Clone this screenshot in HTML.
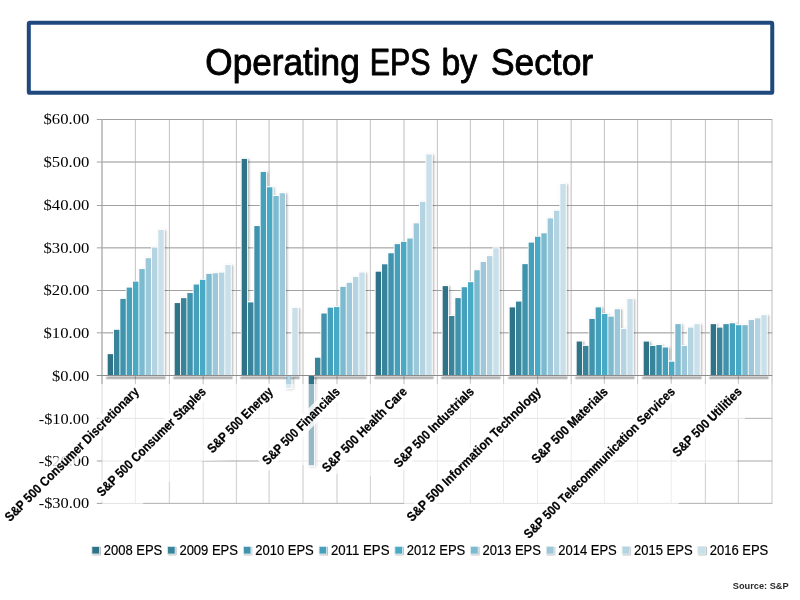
<!DOCTYPE html>
<html lang="en"><head><meta charset="utf-8"><title>Operating EPS by Sector</title>
<style>html,body{margin:0;padding:0;background:#fff;overflow:hidden}svg{display:block}text{font-family:"Liberation Sans",sans-serif}.yl{font-family:"Liberation Serif",serif;font-size:14.3px;fill:#000}.cl{font-weight:bold;font-size:13px;fill:#000;stroke:#000;stroke-width:0.25px}.lg{font-size:14px;fill:#000;stroke:#000;stroke-width:0.2px}</style></head><body>
<svg width="800" height="600" viewBox="0 0 800 600">
<defs><filter id="sh" x="-10%" y="-10%" width="130%" height="130%"><feDropShadow dx="1.2" dy="1.0" stdDeviation="1.0" flood-color="#000" flood-opacity="0.32"/></filter><filter id="ss" x="-30%" y="-30%" width="180%" height="180%"><feDropShadow dx="0.8" dy="0.8" stdDeviation="0.6" flood-color="#000" flood-opacity="0.35"/></filter><clipPath id="dk"><rect x="0" y="0" width="800" height="384"/></clipPath><clipPath id="dk2"><polygon points="142,504.4 160,487 169,482 203,461 260,459 303,465 337,474 370,476 403.5,463 404,504.4"/><polygon points="745,384 773.2,384 773.2,504.4 678,504.4 705,463 737,463 737,419 745,419"/></clipPath></defs>
<rect width="800" height="600" fill="#fff"/>
<rect x="28.8" y="22.85" width="743.45" height="70.0" rx="1.2" fill="#fff" stroke="#1f497d" stroke-width="4"/>
<text x="205.3" y="75" font-size="36" fill="#000" stroke="#000" stroke-width="0.9" stroke-linejoin="round" textLength="154.4" lengthAdjust="spacingAndGlyphs">Operating</text>
<text x="369.7" y="75" font-size="36" fill="#000" stroke="#000" stroke-width="0.9" stroke-linejoin="round" textLength="61.0" lengthAdjust="spacingAndGlyphs">EPS</text>
<text x="441.4" y="75" font-size="36" fill="#000" stroke="#000" stroke-width="0.9" stroke-linejoin="round" textLength="35.6" lengthAdjust="spacingAndGlyphs">by</text>
<text x="490.9" y="75" font-size="36" fill="#000" stroke="#000" stroke-width="0.9" stroke-linejoin="round" textLength="102.2" lengthAdjust="spacingAndGlyphs">Sector</text>
<g stroke-width="1"><line x1="102" y1="119.50" x2="102" y2="503.40" stroke="#ececec" stroke-width="2"/><line x1="135.40" y1="119.50" x2="135.40" y2="503.40" stroke="#ececec"/><line x1="169.40" y1="119.50" x2="169.40" y2="503.40" stroke="#ececec"/><line x1="203.20" y1="119.50" x2="203.20" y2="503.40" stroke="#ececec"/><line x1="236.40" y1="119.50" x2="236.40" y2="503.40" stroke="#ececec"/><line x1="269.10" y1="119.50" x2="269.10" y2="503.40" stroke="#ececec"/><line x1="303.00" y1="119.50" x2="303.00" y2="503.40" stroke="#ececec"/><line x1="337.00" y1="119.50" x2="337.00" y2="503.40" stroke="#ececec"/><line x1="370.40" y1="119.50" x2="370.40" y2="503.40" stroke="#ececec"/><line x1="404.00" y1="119.50" x2="404.00" y2="503.40" stroke="#ececec"/><line x1="437.40" y1="119.50" x2="437.40" y2="503.40" stroke="#ececec"/><line x1="470.40" y1="119.50" x2="470.40" y2="503.40" stroke="#ececec"/><line x1="503.60" y1="119.50" x2="503.60" y2="503.40" stroke="#ececec"/><line x1="537.60" y1="119.50" x2="537.60" y2="503.40" stroke="#ececec"/><line x1="571.20" y1="119.50" x2="571.20" y2="503.40" stroke="#ececec"/><line x1="604.40" y1="119.50" x2="604.40" y2="503.40" stroke="#ececec"/><line x1="637.60" y1="119.50" x2="637.60" y2="503.40" stroke="#ececec"/><line x1="671.20" y1="119.50" x2="671.20" y2="503.40" stroke="#ececec"/><line x1="705.40" y1="119.50" x2="705.40" y2="503.40" stroke="#ececec"/><line x1="738.40" y1="119.50" x2="738.40" y2="503.40" stroke="#ececec"/><line x1="772.00" y1="119.50" x2="772.00" y2="503.40" stroke="#ececec"/><line x1="102.20" y1="503.40" x2="772.20" y2="503.40" stroke="#e4e4e4"/><line x1="102.20" y1="461.00" x2="772.20" y2="461.00" stroke="#e4e4e4"/><line x1="102.20" y1="418.40" x2="772.20" y2="418.40" stroke="#e4e4e4"/><line x1="102.20" y1="375.50" x2="772.20" y2="375.50" stroke="#e4e4e4"/><line x1="102.20" y1="332.85" x2="772.20" y2="332.85" stroke="#e4e4e4"/><line x1="102.20" y1="290.50" x2="772.20" y2="290.50" stroke="#e4e4e4"/><line x1="102.20" y1="247.85" x2="772.20" y2="247.85" stroke="#e4e4e4"/><line x1="102.20" y1="205.50" x2="772.20" y2="205.50" stroke="#e4e4e4"/><line x1="102.20" y1="162.00" x2="772.20" y2="162.00" stroke="#e4e4e4"/><line x1="102.20" y1="119.50" x2="772.20" y2="119.50" stroke="#e4e4e4"/></g>
<g stroke-width="1" clip-path="url(#dk2)"><line x1="102" y1="119.50" x2="102" y2="503.40" stroke="#d2d2d2" stroke-width="2"/><line x1="135.40" y1="119.50" x2="135.40" y2="503.40" stroke="#d2d2d2"/><line x1="169.40" y1="119.50" x2="169.40" y2="503.40" stroke="#d2d2d2"/><line x1="203.20" y1="119.50" x2="203.20" y2="503.40" stroke="#d2d2d2"/><line x1="236.40" y1="119.50" x2="236.40" y2="503.40" stroke="#d2d2d2"/><line x1="269.10" y1="119.50" x2="269.10" y2="503.40" stroke="#d2d2d2"/><line x1="303.00" y1="119.50" x2="303.00" y2="503.40" stroke="#d2d2d2"/><line x1="337.00" y1="119.50" x2="337.00" y2="503.40" stroke="#d2d2d2"/><line x1="370.40" y1="119.50" x2="370.40" y2="503.40" stroke="#d2d2d2"/><line x1="404.00" y1="119.50" x2="404.00" y2="503.40" stroke="#d2d2d2"/><line x1="437.40" y1="119.50" x2="437.40" y2="503.40" stroke="#d2d2d2"/><line x1="470.40" y1="119.50" x2="470.40" y2="503.40" stroke="#d2d2d2"/><line x1="503.60" y1="119.50" x2="503.60" y2="503.40" stroke="#d2d2d2"/><line x1="537.60" y1="119.50" x2="537.60" y2="503.40" stroke="#d2d2d2"/><line x1="571.20" y1="119.50" x2="571.20" y2="503.40" stroke="#d2d2d2"/><line x1="604.40" y1="119.50" x2="604.40" y2="503.40" stroke="#d2d2d2"/><line x1="637.60" y1="119.50" x2="637.60" y2="503.40" stroke="#d2d2d2"/><line x1="671.20" y1="119.50" x2="671.20" y2="503.40" stroke="#d2d2d2"/><line x1="705.40" y1="119.50" x2="705.40" y2="503.40" stroke="#d2d2d2"/><line x1="738.40" y1="119.50" x2="738.40" y2="503.40" stroke="#d2d2d2"/><line x1="772.00" y1="119.50" x2="772.00" y2="503.40" stroke="#d2d2d2"/><line x1="102.20" y1="503.40" x2="772.20" y2="503.40" stroke="#b4b4b4"/><line x1="102.20" y1="461.00" x2="772.20" y2="461.00" stroke="#b4b4b4"/><line x1="102.20" y1="418.40" x2="772.20" y2="418.40" stroke="#b4b4b4"/><line x1="102.20" y1="375.50" x2="772.20" y2="375.50" stroke="#b4b4b4"/><line x1="102.20" y1="332.85" x2="772.20" y2="332.85" stroke="#b4b4b4"/><line x1="102.20" y1="290.50" x2="772.20" y2="290.50" stroke="#b4b4b4"/><line x1="102.20" y1="247.85" x2="772.20" y2="247.85" stroke="#b4b4b4"/><line x1="102.20" y1="205.50" x2="772.20" y2="205.50" stroke="#b4b4b4"/><line x1="102.20" y1="162.00" x2="772.20" y2="162.00" stroke="#b4b4b4"/><line x1="102.20" y1="119.50" x2="772.20" y2="119.50" stroke="#b4b4b4"/></g>
<g stroke-width="1" clip-path="url(#dk)"><line x1="102" y1="119.50" x2="102" y2="503.40" stroke="#c6c6c6" stroke-width="2"/><line x1="135.40" y1="119.50" x2="135.40" y2="503.40" stroke="#c6c6c6"/><line x1="169.40" y1="119.50" x2="169.40" y2="503.40" stroke="#c6c6c6"/><line x1="203.20" y1="119.50" x2="203.20" y2="503.40" stroke="#c6c6c6"/><line x1="236.40" y1="119.50" x2="236.40" y2="503.40" stroke="#c6c6c6"/><line x1="269.10" y1="119.50" x2="269.10" y2="503.40" stroke="#c6c6c6"/><line x1="303.00" y1="119.50" x2="303.00" y2="503.40" stroke="#c6c6c6"/><line x1="337.00" y1="119.50" x2="337.00" y2="503.40" stroke="#c6c6c6"/><line x1="370.40" y1="119.50" x2="370.40" y2="503.40" stroke="#c6c6c6"/><line x1="404.00" y1="119.50" x2="404.00" y2="503.40" stroke="#c6c6c6"/><line x1="437.40" y1="119.50" x2="437.40" y2="503.40" stroke="#c6c6c6"/><line x1="470.40" y1="119.50" x2="470.40" y2="503.40" stroke="#c6c6c6"/><line x1="503.60" y1="119.50" x2="503.60" y2="503.40" stroke="#c6c6c6"/><line x1="537.60" y1="119.50" x2="537.60" y2="503.40" stroke="#c6c6c6"/><line x1="571.20" y1="119.50" x2="571.20" y2="503.40" stroke="#c6c6c6"/><line x1="604.40" y1="119.50" x2="604.40" y2="503.40" stroke="#c6c6c6"/><line x1="637.60" y1="119.50" x2="637.60" y2="503.40" stroke="#c6c6c6"/><line x1="671.20" y1="119.50" x2="671.20" y2="503.40" stroke="#c6c6c6"/><line x1="705.40" y1="119.50" x2="705.40" y2="503.40" stroke="#c6c6c6"/><line x1="738.40" y1="119.50" x2="738.40" y2="503.40" stroke="#c6c6c6"/><line x1="772.00" y1="119.50" x2="772.00" y2="503.40" stroke="#c6c6c6"/><line x1="102.20" y1="503.40" x2="772.20" y2="503.40" stroke="#a0a0a0"/><line x1="102.20" y1="461.00" x2="772.20" y2="461.00" stroke="#a0a0a0"/><line x1="102.20" y1="418.40" x2="772.20" y2="418.40" stroke="#a0a0a0"/><line x1="102.20" y1="375.50" x2="772.20" y2="375.50" stroke="#a0a0a0"/><line x1="102.20" y1="332.85" x2="772.20" y2="332.85" stroke="#a0a0a0"/><line x1="102.20" y1="290.50" x2="772.20" y2="290.50" stroke="#a0a0a0"/><line x1="102.20" y1="247.85" x2="772.20" y2="247.85" stroke="#a0a0a0"/><line x1="102.20" y1="205.50" x2="772.20" y2="205.50" stroke="#a0a0a0"/><line x1="102.20" y1="162.00" x2="772.20" y2="162.00" stroke="#a0a0a0"/><line x1="102.20" y1="119.50" x2="772.20" y2="119.50" stroke="#a0a0a0"/></g>
<g stroke="#a2a2a2" stroke-width="1">
<line x1="96.8" y1="503.40" x2="102.20" y2="503.40"/>
<line x1="96.8" y1="461.00" x2="102.20" y2="461.00"/>
<line x1="96.8" y1="418.40" x2="102.20" y2="418.40"/>
<line x1="96.8" y1="375.50" x2="102.20" y2="375.50"/>
<line x1="96.8" y1="332.85" x2="102.20" y2="332.85"/>
<line x1="96.8" y1="290.50" x2="102.20" y2="290.50"/>
<line x1="96.8" y1="247.85" x2="102.20" y2="247.85"/>
<line x1="96.8" y1="205.50" x2="102.20" y2="205.50"/>
<line x1="96.8" y1="162.00" x2="102.20" y2="162.00"/>
<line x1="96.8" y1="119.50" x2="102.20" y2="119.50"/>
</g>
<g filter="url(#sh)">
<rect x="106.77" y="353.21" width="7.23" height="21.79" fill="#fff"/><rect x="113.09" y="328.90" width="7.23" height="46.10" fill="#fff"/><rect x="119.42" y="297.99" width="7.23" height="77.01" fill="#fff"/><rect x="125.76" y="286.69" width="7.23" height="88.31" fill="#fff"/><rect x="132.09" y="280.72" width="7.23" height="94.28" fill="#fff"/><rect x="138.42" y="268.14" width="7.23" height="106.86" fill="#fff"/><rect x="144.75" y="257.27" width="7.23" height="117.73" fill="#fff"/><rect x="151.08" y="246.61" width="7.23" height="128.39" fill="#fff"/><rect x="157.41" y="229.13" width="7.23" height="145.87" fill="#fff"/>
<rect x="107.67" y="354.11" width="5.43" height="20.89" fill="#2f7388"/><rect x="114.00" y="329.80" width="5.43" height="45.20" fill="#38849b"/><rect x="120.33" y="298.89" width="5.43" height="76.11" fill="#3f93ad"/><rect x="126.66" y="287.59" width="5.43" height="87.41" fill="#45a0bb"/><rect x="132.98" y="281.62" width="5.43" height="93.38" fill="#4aaac6"/><rect x="139.31" y="269.04" width="5.43" height="105.96" fill="#7bbacf"/><rect x="145.64" y="258.17" width="5.43" height="116.83" fill="#9dc8da"/><rect x="151.97" y="247.51" width="5.43" height="127.49" fill="#b5d4e1"/><rect x="158.31" y="230.03" width="5.43" height="144.97" fill="#c9dfe9"/>
</g>
<g filter="url(#sh)">
<rect x="173.76" y="302.17" width="7.23" height="72.83" fill="#fff"/><rect x="180.09" y="297.26" width="7.23" height="77.74" fill="#fff"/><rect x="186.42" y="292.15" width="7.23" height="82.85" fill="#fff"/><rect x="192.75" y="283.62" width="7.23" height="91.38" fill="#fff"/><rect x="199.08" y="278.93" width="7.23" height="96.07" fill="#fff"/><rect x="205.41" y="272.96" width="7.23" height="102.04" fill="#fff"/><rect x="211.75" y="272.32" width="7.23" height="102.68" fill="#fff"/><rect x="218.07" y="271.68" width="7.23" height="103.32" fill="#fff"/><rect x="224.40" y="264.01" width="7.23" height="110.99" fill="#fff"/>
<rect x="174.66" y="303.07" width="5.43" height="71.93" fill="#2f7388"/><rect x="180.99" y="298.16" width="5.43" height="76.84" fill="#38849b"/><rect x="187.32" y="293.05" width="5.43" height="81.95" fill="#3f93ad"/><rect x="193.65" y="284.52" width="5.43" height="90.48" fill="#45a0bb"/><rect x="199.98" y="279.83" width="5.43" height="95.17" fill="#4aaac6"/><rect x="206.31" y="273.86" width="5.43" height="101.14" fill="#7bbacf"/><rect x="212.64" y="273.22" width="5.43" height="101.78" fill="#9dc8da"/><rect x="218.97" y="272.58" width="5.43" height="102.42" fill="#b5d4e1"/><rect x="225.30" y="264.91" width="5.43" height="110.09" fill="#c9dfe9"/>
</g>
<g filter="url(#sh)">
<rect x="240.76" y="158.00" width="7.23" height="217.00" fill="#fff"/><rect x="247.09" y="301.49" width="7.23" height="73.51" fill="#fff"/><rect x="253.42" y="225.16" width="7.23" height="149.84" fill="#fff"/><rect x="259.75" y="171.01" width="7.23" height="203.99" fill="#fff"/><rect x="266.08" y="186.36" width="7.23" height="188.64" fill="#fff"/><rect x="272.41" y="195.10" width="7.23" height="179.90" fill="#fff"/><rect x="278.75" y="192.33" width="7.23" height="182.67" fill="#fff"/><rect x="285.07" y="376.00" width="7.23" height="12.99" fill="#fff"/><rect x="291.40" y="307.03" width="7.23" height="67.97" fill="#fff"/>
<rect x="241.66" y="158.90" width="5.43" height="216.10" fill="#2f7388"/><rect x="247.99" y="302.39" width="5.43" height="72.61" fill="#38849b"/><rect x="254.32" y="226.06" width="5.43" height="148.94" fill="#3f93ad"/><rect x="260.65" y="171.91" width="5.43" height="203.09" fill="#45a0bb"/><rect x="266.98" y="187.26" width="5.43" height="187.74" fill="#4aaac6"/><rect x="273.31" y="196.00" width="5.43" height="179.00" fill="#7bbacf"/><rect x="279.64" y="193.23" width="5.43" height="181.77" fill="#9dc8da"/><rect x="285.97" y="376.00" width="5.43" height="12.09" fill="#b5d4e1"/><rect x="292.30" y="307.93" width="5.43" height="67.07" fill="#c9dfe9"/>
</g>
<g filter="url(#sh)">
<rect x="307.76" y="376.00" width="7.23" height="90.17" fill="#fff"/><rect x="314.09" y="356.83" width="7.23" height="18.17" fill="#fff"/><rect x="320.43" y="312.61" width="7.23" height="62.39" fill="#fff"/><rect x="326.75" y="306.77" width="7.23" height="68.23" fill="#fff"/><rect x="333.08" y="306.18" width="7.23" height="68.82" fill="#fff"/><rect x="339.41" y="285.96" width="7.23" height="89.04" fill="#fff"/><rect x="345.75" y="281.87" width="7.23" height="93.13" fill="#fff"/><rect x="352.07" y="275.99" width="7.23" height="99.01" fill="#fff"/><rect x="358.40" y="271.64" width="7.23" height="103.36" fill="#fff"/>
<rect x="308.66" y="376.00" width="5.43" height="89.27" fill="#2f7388"/><rect x="314.99" y="357.73" width="5.43" height="17.27" fill="#38849b"/><rect x="321.32" y="313.51" width="5.43" height="61.49" fill="#3f93ad"/><rect x="327.65" y="307.67" width="5.43" height="67.33" fill="#45a0bb"/><rect x="333.98" y="307.08" width="5.43" height="67.92" fill="#4aaac6"/><rect x="340.31" y="286.86" width="5.43" height="88.14" fill="#7bbacf"/><rect x="346.64" y="282.77" width="5.43" height="92.23" fill="#9dc8da"/><rect x="352.97" y="276.89" width="5.43" height="98.11" fill="#b5d4e1"/><rect x="359.30" y="272.54" width="5.43" height="102.46" fill="#c9dfe9"/>
</g>
<g filter="url(#sh)">
<rect x="374.76" y="270.78" width="7.23" height="104.22" fill="#fff"/><rect x="381.09" y="263.41" width="7.23" height="111.59" fill="#fff"/><rect x="387.43" y="252.36" width="7.23" height="122.64" fill="#fff"/><rect x="393.75" y="243.24" width="7.23" height="131.76" fill="#fff"/><rect x="400.08" y="240.94" width="7.23" height="134.06" fill="#fff"/><rect x="406.41" y="237.61" width="7.23" height="137.39" fill="#fff"/><rect x="412.75" y="222.43" width="7.23" height="152.57" fill="#fff"/><rect x="419.07" y="200.94" width="7.23" height="174.06" fill="#fff"/><rect x="425.40" y="153.52" width="7.23" height="221.48" fill="#fff"/>
<rect x="375.66" y="271.68" width="5.43" height="103.32" fill="#2f7388"/><rect x="381.99" y="264.31" width="5.43" height="110.69" fill="#38849b"/><rect x="388.32" y="253.26" width="5.43" height="121.74" fill="#3f93ad"/><rect x="394.65" y="244.14" width="5.43" height="130.86" fill="#45a0bb"/><rect x="400.98" y="241.84" width="5.43" height="133.16" fill="#4aaac6"/><rect x="407.31" y="238.51" width="5.43" height="136.49" fill="#7bbacf"/><rect x="413.64" y="223.33" width="5.43" height="151.67" fill="#9dc8da"/><rect x="419.97" y="201.84" width="5.43" height="173.16" fill="#b5d4e1"/><rect x="426.30" y="154.42" width="5.43" height="220.58" fill="#c9dfe9"/>
</g>
<g filter="url(#sh)">
<rect x="441.76" y="285.20" width="7.23" height="89.80" fill="#fff"/><rect x="448.09" y="315.13" width="7.23" height="59.87" fill="#fff"/><rect x="454.43" y="297.22" width="7.23" height="77.78" fill="#fff"/><rect x="460.75" y="286.31" width="7.23" height="88.69" fill="#fff"/><rect x="467.08" y="281.27" width="7.23" height="93.73" fill="#fff"/><rect x="473.41" y="269.34" width="7.23" height="105.66" fill="#fff"/><rect x="479.75" y="261.06" width="7.23" height="113.94" fill="#fff"/><rect x="486.07" y="255.18" width="7.23" height="119.82" fill="#fff"/><rect x="492.40" y="247.33" width="7.23" height="127.67" fill="#fff"/>
<rect x="442.66" y="286.10" width="5.43" height="88.90" fill="#2f7388"/><rect x="448.99" y="316.03" width="5.43" height="58.97" fill="#38849b"/><rect x="455.32" y="298.12" width="5.43" height="76.88" fill="#3f93ad"/><rect x="461.65" y="287.21" width="5.43" height="87.79" fill="#45a0bb"/><rect x="467.98" y="282.17" width="5.43" height="92.83" fill="#4aaac6"/><rect x="474.31" y="270.24" width="5.43" height="104.76" fill="#7bbacf"/><rect x="480.64" y="261.96" width="5.43" height="113.04" fill="#9dc8da"/><rect x="486.97" y="256.08" width="5.43" height="118.92" fill="#b5d4e1"/><rect x="493.30" y="248.23" width="5.43" height="126.77" fill="#c9dfe9"/>
</g>
<g filter="url(#sh)">
<rect x="508.76" y="306.47" width="7.23" height="68.53" fill="#fff"/><rect x="515.09" y="300.68" width="7.23" height="74.32" fill="#fff"/><rect x="521.42" y="263.24" width="7.23" height="111.76" fill="#fff"/><rect x="527.75" y="241.70" width="7.23" height="133.30" fill="#fff"/><rect x="534.08" y="235.82" width="7.23" height="139.18" fill="#fff"/><rect x="540.41" y="232.41" width="7.23" height="142.59" fill="#fff"/><rect x="546.74" y="217.48" width="7.23" height="157.52" fill="#fff"/><rect x="553.07" y="209.81" width="7.23" height="165.19" fill="#fff"/><rect x="559.40" y="183.16" width="7.23" height="191.84" fill="#fff"/>
<rect x="509.66" y="307.37" width="5.43" height="67.63" fill="#2f7388"/><rect x="516.00" y="301.58" width="5.43" height="73.42" fill="#38849b"/><rect x="522.33" y="264.14" width="5.43" height="110.86" fill="#3f93ad"/><rect x="528.65" y="242.60" width="5.43" height="132.40" fill="#45a0bb"/><rect x="534.99" y="236.72" width="5.43" height="138.28" fill="#4aaac6"/><rect x="541.32" y="233.31" width="5.43" height="141.69" fill="#7bbacf"/><rect x="547.64" y="218.38" width="5.43" height="156.62" fill="#9dc8da"/><rect x="553.98" y="210.71" width="5.43" height="164.29" fill="#b5d4e1"/><rect x="560.31" y="184.06" width="5.43" height="190.94" fill="#c9dfe9"/>
</g>
<g filter="url(#sh)">
<rect x="575.76" y="340.59" width="7.23" height="34.41" fill="#fff"/><rect x="582.10" y="344.98" width="7.23" height="30.02" fill="#fff"/><rect x="588.42" y="318.03" width="7.23" height="56.97" fill="#fff"/><rect x="594.75" y="306.47" width="7.23" height="68.53" fill="#fff"/><rect x="601.09" y="313.00" width="7.23" height="62.00" fill="#fff"/><rect x="607.41" y="315.73" width="7.23" height="59.27" fill="#fff"/><rect x="613.75" y="308.31" width="7.23" height="66.69" fill="#fff"/><rect x="620.08" y="328.01" width="7.23" height="46.99" fill="#fff"/><rect x="626.40" y="298.07" width="7.23" height="76.93" fill="#fff"/>
<rect x="576.67" y="341.49" width="5.43" height="33.51" fill="#2f7388"/><rect x="583.00" y="345.88" width="5.43" height="29.12" fill="#38849b"/><rect x="589.33" y="318.93" width="5.43" height="56.07" fill="#3f93ad"/><rect x="595.66" y="307.37" width="5.43" height="67.63" fill="#45a0bb"/><rect x="601.99" y="313.90" width="5.43" height="61.10" fill="#4aaac6"/><rect x="608.32" y="316.63" width="5.43" height="58.37" fill="#7bbacf"/><rect x="614.65" y="309.21" width="5.43" height="65.79" fill="#9dc8da"/><rect x="620.98" y="328.91" width="5.43" height="46.09" fill="#b5d4e1"/><rect x="627.31" y="298.97" width="5.43" height="76.03" fill="#c9dfe9"/>
</g>
<g filter="url(#sh)">
<rect x="642.76" y="340.67" width="7.23" height="34.33" fill="#fff"/><rect x="649.10" y="345.02" width="7.23" height="29.98" fill="#fff"/><rect x="655.42" y="344.17" width="7.23" height="30.83" fill="#fff"/><rect x="661.75" y="346.60" width="7.23" height="28.40" fill="#fff"/><rect x="668.09" y="360.76" width="7.23" height="14.24" fill="#fff"/><rect x="674.41" y="323.23" width="7.23" height="51.77" fill="#fff"/><rect x="680.75" y="345.02" width="7.23" height="29.98" fill="#fff"/><rect x="687.08" y="326.69" width="7.23" height="48.31" fill="#fff"/><rect x="693.40" y="323.23" width="7.23" height="51.77" fill="#fff"/>
<rect x="643.67" y="341.57" width="5.43" height="33.43" fill="#2f7388"/><rect x="650.00" y="345.92" width="5.43" height="29.08" fill="#38849b"/><rect x="656.33" y="345.07" width="5.43" height="29.93" fill="#3f93ad"/><rect x="662.66" y="347.50" width="5.43" height="27.50" fill="#45a0bb"/><rect x="668.99" y="361.66" width="5.43" height="13.34" fill="#4aaac6"/><rect x="675.32" y="324.13" width="5.43" height="50.87" fill="#7bbacf"/><rect x="681.65" y="345.92" width="5.43" height="29.08" fill="#9dc8da"/><rect x="687.98" y="327.59" width="5.43" height="47.41" fill="#b5d4e1"/><rect x="694.31" y="324.13" width="5.43" height="50.87" fill="#c9dfe9"/>
</g>
<g filter="url(#sh)">
<rect x="709.76" y="323.23" width="7.23" height="51.77" fill="#fff"/><rect x="716.10" y="326.69" width="7.23" height="48.31" fill="#fff"/><rect x="722.42" y="323.23" width="7.23" height="51.77" fill="#fff"/><rect x="728.75" y="322.38" width="7.23" height="52.62" fill="#fff"/><rect x="735.09" y="324.26" width="7.23" height="50.74" fill="#fff"/><rect x="741.41" y="324.26" width="7.23" height="50.74" fill="#fff"/><rect x="747.75" y="319.18" width="7.23" height="55.82" fill="#fff"/><rect x="754.08" y="317.43" width="7.23" height="57.57" fill="#fff"/><rect x="760.40" y="314.28" width="7.23" height="60.72" fill="#fff"/>
<rect x="710.67" y="324.13" width="5.43" height="50.87" fill="#2f7388"/><rect x="717.00" y="327.59" width="5.43" height="47.41" fill="#38849b"/><rect x="723.33" y="324.13" width="5.43" height="50.87" fill="#3f93ad"/><rect x="729.66" y="323.28" width="5.43" height="51.72" fill="#45a0bb"/><rect x="735.99" y="325.16" width="5.43" height="49.84" fill="#4aaac6"/><rect x="742.32" y="325.16" width="5.43" height="49.84" fill="#7bbacf"/><rect x="748.65" y="320.08" width="5.43" height="54.92" fill="#9dc8da"/><rect x="754.98" y="318.33" width="5.43" height="56.67" fill="#b5d4e1"/><rect x="761.31" y="315.18" width="5.43" height="59.82" fill="#c9dfe9"/>
</g>
<rect x="106.62" y="376" width="58.57" height="1" fill="#000" fill-opacity="0.08"/>
<rect x="105.62" y="376" width="1" height="1" fill="#000" fill-opacity="0.040"/><rect x="165.19" y="376" width="1" height="1" fill="#000" fill-opacity="0.040"/>
<rect x="106.62" y="377" width="58.57" height="1" fill="#000" fill-opacity="0.29"/>
<rect x="105.62" y="377" width="1" height="1" fill="#000" fill-opacity="0.145"/><rect x="165.19" y="377" width="1" height="1" fill="#000" fill-opacity="0.145"/>
<rect x="106.62" y="378" width="58.57" height="1" fill="#000" fill-opacity="0.26"/>
<rect x="105.62" y="378" width="1" height="1" fill="#000" fill-opacity="0.130"/><rect x="165.19" y="378" width="1" height="1" fill="#000" fill-opacity="0.130"/>
<rect x="106.62" y="379" width="58.57" height="1" fill="#000" fill-opacity="0.09"/>
<rect x="105.62" y="379" width="1" height="1" fill="#000" fill-opacity="0.045"/><rect x="165.19" y="379" width="1" height="1" fill="#000" fill-opacity="0.045"/>
<rect x="173.61" y="376" width="58.57" height="1" fill="#000" fill-opacity="0.08"/>
<rect x="172.61" y="376" width="1" height="1" fill="#000" fill-opacity="0.040"/><rect x="232.18" y="376" width="1" height="1" fill="#000" fill-opacity="0.040"/>
<rect x="173.61" y="377" width="58.57" height="1" fill="#000" fill-opacity="0.29"/>
<rect x="172.61" y="377" width="1" height="1" fill="#000" fill-opacity="0.145"/><rect x="232.18" y="377" width="1" height="1" fill="#000" fill-opacity="0.145"/>
<rect x="173.61" y="378" width="58.57" height="1" fill="#000" fill-opacity="0.26"/>
<rect x="172.61" y="378" width="1" height="1" fill="#000" fill-opacity="0.130"/><rect x="232.18" y="378" width="1" height="1" fill="#000" fill-opacity="0.130"/>
<rect x="173.61" y="379" width="58.57" height="1" fill="#000" fill-opacity="0.09"/>
<rect x="172.61" y="379" width="1" height="1" fill="#000" fill-opacity="0.045"/><rect x="232.18" y="379" width="1" height="1" fill="#000" fill-opacity="0.045"/>
<rect x="240.61" y="376" width="45.91" height="1" fill="#000" fill-opacity="0.08"/>
<rect x="239.61" y="376" width="1" height="1" fill="#000" fill-opacity="0.040"/><rect x="286.52" y="376" width="1" height="1" fill="#000" fill-opacity="0.040"/>
<rect x="240.61" y="377" width="45.91" height="1" fill="#000" fill-opacity="0.29"/>
<rect x="239.61" y="377" width="1" height="1" fill="#000" fill-opacity="0.145"/><rect x="286.52" y="377" width="1" height="1" fill="#000" fill-opacity="0.145"/>
<rect x="240.61" y="378" width="45.91" height="1" fill="#000" fill-opacity="0.26"/>
<rect x="239.61" y="378" width="1" height="1" fill="#000" fill-opacity="0.130"/><rect x="286.52" y="378" width="1" height="1" fill="#000" fill-opacity="0.130"/>
<rect x="240.61" y="379" width="45.91" height="1" fill="#000" fill-opacity="0.09"/>
<rect x="239.61" y="379" width="1" height="1" fill="#000" fill-opacity="0.045"/><rect x="286.52" y="379" width="1" height="1" fill="#000" fill-opacity="0.045"/>
<rect x="291.25" y="376" width="7.93" height="1" fill="#000" fill-opacity="0.08"/>
<rect x="290.25" y="376" width="1" height="1" fill="#000" fill-opacity="0.040"/><rect x="299.18" y="376" width="1" height="1" fill="#000" fill-opacity="0.040"/>
<rect x="291.25" y="377" width="7.93" height="1" fill="#000" fill-opacity="0.29"/>
<rect x="290.25" y="377" width="1" height="1" fill="#000" fill-opacity="0.145"/><rect x="299.18" y="377" width="1" height="1" fill="#000" fill-opacity="0.145"/>
<rect x="291.25" y="378" width="7.93" height="1" fill="#000" fill-opacity="0.26"/>
<rect x="290.25" y="378" width="1" height="1" fill="#000" fill-opacity="0.130"/><rect x="299.18" y="378" width="1" height="1" fill="#000" fill-opacity="0.130"/>
<rect x="291.25" y="379" width="7.93" height="1" fill="#000" fill-opacity="0.09"/>
<rect x="290.25" y="379" width="1" height="1" fill="#000" fill-opacity="0.045"/><rect x="299.18" y="379" width="1" height="1" fill="#000" fill-opacity="0.045"/>
<rect x="313.94" y="376" width="52.24" height="1" fill="#000" fill-opacity="0.08"/>
<rect x="312.94" y="376" width="1" height="1" fill="#000" fill-opacity="0.040"/><rect x="366.18" y="376" width="1" height="1" fill="#000" fill-opacity="0.040"/>
<rect x="313.94" y="377" width="52.24" height="1" fill="#000" fill-opacity="0.29"/>
<rect x="312.94" y="377" width="1" height="1" fill="#000" fill-opacity="0.145"/><rect x="366.18" y="377" width="1" height="1" fill="#000" fill-opacity="0.145"/>
<rect x="313.94" y="378" width="52.24" height="1" fill="#000" fill-opacity="0.26"/>
<rect x="312.94" y="378" width="1" height="1" fill="#000" fill-opacity="0.130"/><rect x="366.18" y="378" width="1" height="1" fill="#000" fill-opacity="0.130"/>
<rect x="313.94" y="379" width="52.24" height="1" fill="#000" fill-opacity="0.09"/>
<rect x="312.94" y="379" width="1" height="1" fill="#000" fill-opacity="0.045"/><rect x="366.18" y="379" width="1" height="1" fill="#000" fill-opacity="0.045"/>
<rect x="374.61" y="376" width="58.57" height="1" fill="#000" fill-opacity="0.08"/>
<rect x="373.61" y="376" width="1" height="1" fill="#000" fill-opacity="0.040"/><rect x="433.18" y="376" width="1" height="1" fill="#000" fill-opacity="0.040"/>
<rect x="374.61" y="377" width="58.57" height="1" fill="#000" fill-opacity="0.29"/>
<rect x="373.61" y="377" width="1" height="1" fill="#000" fill-opacity="0.145"/><rect x="433.18" y="377" width="1" height="1" fill="#000" fill-opacity="0.145"/>
<rect x="374.61" y="378" width="58.57" height="1" fill="#000" fill-opacity="0.26"/>
<rect x="373.61" y="378" width="1" height="1" fill="#000" fill-opacity="0.130"/><rect x="433.18" y="378" width="1" height="1" fill="#000" fill-opacity="0.130"/>
<rect x="374.61" y="379" width="58.57" height="1" fill="#000" fill-opacity="0.09"/>
<rect x="373.61" y="379" width="1" height="1" fill="#000" fill-opacity="0.045"/><rect x="433.18" y="379" width="1" height="1" fill="#000" fill-opacity="0.045"/>
<rect x="441.61" y="376" width="58.57" height="1" fill="#000" fill-opacity="0.08"/>
<rect x="440.61" y="376" width="1" height="1" fill="#000" fill-opacity="0.040"/><rect x="500.18" y="376" width="1" height="1" fill="#000" fill-opacity="0.040"/>
<rect x="441.61" y="377" width="58.57" height="1" fill="#000" fill-opacity="0.29"/>
<rect x="440.61" y="377" width="1" height="1" fill="#000" fill-opacity="0.145"/><rect x="500.18" y="377" width="1" height="1" fill="#000" fill-opacity="0.145"/>
<rect x="441.61" y="378" width="58.57" height="1" fill="#000" fill-opacity="0.26"/>
<rect x="440.61" y="378" width="1" height="1" fill="#000" fill-opacity="0.130"/><rect x="500.18" y="378" width="1" height="1" fill="#000" fill-opacity="0.130"/>
<rect x="441.61" y="379" width="58.57" height="1" fill="#000" fill-opacity="0.09"/>
<rect x="440.61" y="379" width="1" height="1" fill="#000" fill-opacity="0.045"/><rect x="500.18" y="379" width="1" height="1" fill="#000" fill-opacity="0.045"/>
<rect x="508.61" y="376" width="58.57" height="1" fill="#000" fill-opacity="0.08"/>
<rect x="507.61" y="376" width="1" height="1" fill="#000" fill-opacity="0.040"/><rect x="567.18" y="376" width="1" height="1" fill="#000" fill-opacity="0.040"/>
<rect x="508.61" y="377" width="58.57" height="1" fill="#000" fill-opacity="0.29"/>
<rect x="507.61" y="377" width="1" height="1" fill="#000" fill-opacity="0.145"/><rect x="567.18" y="377" width="1" height="1" fill="#000" fill-opacity="0.145"/>
<rect x="508.61" y="378" width="58.57" height="1" fill="#000" fill-opacity="0.26"/>
<rect x="507.61" y="378" width="1" height="1" fill="#000" fill-opacity="0.130"/><rect x="567.18" y="378" width="1" height="1" fill="#000" fill-opacity="0.130"/>
<rect x="508.61" y="379" width="58.57" height="1" fill="#000" fill-opacity="0.09"/>
<rect x="507.61" y="379" width="1" height="1" fill="#000" fill-opacity="0.045"/><rect x="567.18" y="379" width="1" height="1" fill="#000" fill-opacity="0.045"/>
<rect x="575.62" y="376" width="58.57" height="1" fill="#000" fill-opacity="0.08"/>
<rect x="574.62" y="376" width="1" height="1" fill="#000" fill-opacity="0.040"/><rect x="634.19" y="376" width="1" height="1" fill="#000" fill-opacity="0.040"/>
<rect x="575.62" y="377" width="58.57" height="1" fill="#000" fill-opacity="0.29"/>
<rect x="574.62" y="377" width="1" height="1" fill="#000" fill-opacity="0.145"/><rect x="634.19" y="377" width="1" height="1" fill="#000" fill-opacity="0.145"/>
<rect x="575.62" y="378" width="58.57" height="1" fill="#000" fill-opacity="0.26"/>
<rect x="574.62" y="378" width="1" height="1" fill="#000" fill-opacity="0.130"/><rect x="634.19" y="378" width="1" height="1" fill="#000" fill-opacity="0.130"/>
<rect x="575.62" y="379" width="58.57" height="1" fill="#000" fill-opacity="0.09"/>
<rect x="574.62" y="379" width="1" height="1" fill="#000" fill-opacity="0.045"/><rect x="634.19" y="379" width="1" height="1" fill="#000" fill-opacity="0.045"/>
<rect x="642.62" y="376" width="58.57" height="1" fill="#000" fill-opacity="0.08"/>
<rect x="641.62" y="376" width="1" height="1" fill="#000" fill-opacity="0.040"/><rect x="701.19" y="376" width="1" height="1" fill="#000" fill-opacity="0.040"/>
<rect x="642.62" y="377" width="58.57" height="1" fill="#000" fill-opacity="0.29"/>
<rect x="641.62" y="377" width="1" height="1" fill="#000" fill-opacity="0.145"/><rect x="701.19" y="377" width="1" height="1" fill="#000" fill-opacity="0.145"/>
<rect x="642.62" y="378" width="58.57" height="1" fill="#000" fill-opacity="0.26"/>
<rect x="641.62" y="378" width="1" height="1" fill="#000" fill-opacity="0.130"/><rect x="701.19" y="378" width="1" height="1" fill="#000" fill-opacity="0.130"/>
<rect x="642.62" y="379" width="58.57" height="1" fill="#000" fill-opacity="0.09"/>
<rect x="641.62" y="379" width="1" height="1" fill="#000" fill-opacity="0.045"/><rect x="701.19" y="379" width="1" height="1" fill="#000" fill-opacity="0.045"/>
<rect x="709.62" y="376" width="58.57" height="1" fill="#000" fill-opacity="0.08"/>
<rect x="708.62" y="376" width="1" height="1" fill="#000" fill-opacity="0.040"/><rect x="768.19" y="376" width="1" height="1" fill="#000" fill-opacity="0.040"/>
<rect x="709.62" y="377" width="58.57" height="1" fill="#000" fill-opacity="0.29"/>
<rect x="708.62" y="377" width="1" height="1" fill="#000" fill-opacity="0.145"/><rect x="768.19" y="377" width="1" height="1" fill="#000" fill-opacity="0.145"/>
<rect x="709.62" y="378" width="58.57" height="1" fill="#000" fill-opacity="0.26"/>
<rect x="708.62" y="378" width="1" height="1" fill="#000" fill-opacity="0.130"/><rect x="768.19" y="378" width="1" height="1" fill="#000" fill-opacity="0.130"/>
<rect x="709.62" y="379" width="58.57" height="1" fill="#000" fill-opacity="0.09"/>
<rect x="708.62" y="379" width="1" height="1" fill="#000" fill-opacity="0.045"/><rect x="768.19" y="379" width="1" height="1" fill="#000" fill-opacity="0.045"/>
<rect x="285.02" y="384" width="9.33" height="8.09" fill="#fff" fill-opacity="0.5"/>
<rect x="307.71" y="384" width="9.33" height="85.27" fill="#fff" fill-opacity="0.5"/>
<line x1="96.8" y1="375.5" x2="772.20" y2="375.5" stroke="#8c8c8c" stroke-width="1"/>
<text class="yl" x="38.7" y="507.6" textLength="50.6" lengthAdjust="spacingAndGlyphs">-$30.00</text>
<text class="yl" x="38.7" y="466.1" textLength="50.6" lengthAdjust="spacingAndGlyphs">-$20.00</text>
<text class="yl" x="38.7" y="423.5" textLength="50.6" lengthAdjust="spacingAndGlyphs">-$10.00</text>
<text class="yl" x="52.1" y="380.5" textLength="37.2" lengthAdjust="spacingAndGlyphs">$0.00</text>
<text class="yl" x="43.5" y="337.8" textLength="45.8" lengthAdjust="spacingAndGlyphs">$10.00</text>
<text class="yl" x="43.5" y="295.3" textLength="45.8" lengthAdjust="spacingAndGlyphs">$20.00</text>
<text class="yl" x="43.5" y="252.6" textLength="45.8" lengthAdjust="spacingAndGlyphs">$30.00</text>
<text class="yl" x="43.5" y="210.2" textLength="45.8" lengthAdjust="spacingAndGlyphs">$40.00</text>
<text class="yl" x="43.5" y="166.6" textLength="45.8" lengthAdjust="spacingAndGlyphs">$50.00</text>
<text class="yl" x="43.5" y="124.0" textLength="45.8" lengthAdjust="spacingAndGlyphs">$60.00</text>
<g transform="translate(139.7,392.5) rotate(-45)"><rect x="-186.5" y="-11.5" width="189.5" height="16" fill="#fff" fill-opacity="0.8"/><text class="cl" x="-183.5" y="0" textLength="183.5" lengthAdjust="spacingAndGlyphs">S&amp;P 500 Consumer Discretionary</text></g>
<g transform="translate(206.7,392.5) rotate(-45)"><rect x="-151.1" y="-11.5" width="154.1" height="16" fill="#fff" fill-opacity="0.8"/><text class="cl" x="-148.1" y="0" textLength="148.1" lengthAdjust="spacingAndGlyphs">S&amp;P 500 Consumer Staples</text></g>
<g transform="translate(273.7,392.5) rotate(-45)"><rect x="-89.7" y="-11.5" width="92.7" height="16" fill="#fff" fill-opacity="0.8"/><text class="cl" x="-86.7" y="0" textLength="86.7" lengthAdjust="spacingAndGlyphs">S&amp;P 500 Energy</text></g>
<g transform="translate(340.7,392.5) rotate(-45)"><rect x="-106.4" y="-11.5" width="109.4" height="16" fill="#fff" fill-opacity="0.8"/><text class="cl" x="-103.4" y="0" textLength="103.4" lengthAdjust="spacingAndGlyphs">S&amp;P 500 Financials</text></g>
<g transform="translate(407.7,392.5) rotate(-45)"><rect x="-116.8" y="-11.5" width="119.8" height="16" fill="#fff" fill-opacity="0.8"/><text class="cl" x="-113.8" y="0" textLength="113.8" lengthAdjust="spacingAndGlyphs">S&amp;P 500 Health Care</text></g>
<g transform="translate(474.7,392.5) rotate(-45)"><rect x="-110.1" y="-11.5" width="113.1" height="16" fill="#fff" fill-opacity="0.8"/><text class="cl" x="-107.1" y="0" textLength="107.1" lengthAdjust="spacingAndGlyphs">S&amp;P 500 Industrials</text></g>
<g transform="translate(541.7,392.5) rotate(-45)"><rect x="-186.5" y="-11.5" width="189.5" height="16" fill="#fff" fill-opacity="0.8"/><text class="cl" x="-183.5" y="0" textLength="183.5" lengthAdjust="spacingAndGlyphs">S&amp;P 500 Information Technology</text></g>
<g transform="translate(608.7,392.5) rotate(-45)"><rect x="-104.6" y="-11.5" width="107.6" height="16" fill="#fff" fill-opacity="0.8"/><text class="cl" x="-101.6" y="0" textLength="101.6" lengthAdjust="spacingAndGlyphs">S&amp;P 500 Materials</text></g>
<g transform="translate(675.7,392.5) rotate(-45)"><rect x="-210.5" y="-11.5" width="213.5" height="16" fill="#fff" fill-opacity="0.8"/><text class="cl" x="-207.5" y="0" textLength="207.5" lengthAdjust="spacingAndGlyphs">S&amp;P 500 Telecommunication Services</text></g>
<g transform="translate(742.7,392.5) rotate(-45)"><rect x="-95.0" y="-11.5" width="98.0" height="16" fill="#fff" fill-opacity="0.8"/><text class="cl" x="-92.0" y="0" textLength="92.0" lengthAdjust="spacingAndGlyphs">S&amp;P 500 Utilities</text></g>
<rect x="91.9" y="546.5" width="7.5" height="7.5" fill="#2f7388" stroke="#dbeaf0" stroke-width="0.8" filter="url(#ss)"/>
<text class="lg" x="103.7" y="554.8" textLength="58.6" lengthAdjust="spacingAndGlyphs">2008 EPS</text>
<rect x="167.6" y="546.5" width="7.5" height="7.5" fill="#38849b" stroke="#dbeaf0" stroke-width="0.8" filter="url(#ss)"/>
<text class="lg" x="179.4" y="554.8" textLength="58.6" lengthAdjust="spacingAndGlyphs">2009 EPS</text>
<rect x="243.4" y="546.5" width="7.5" height="7.5" fill="#3f93ad" stroke="#dbeaf0" stroke-width="0.8" filter="url(#ss)"/>
<text class="lg" x="255.2" y="554.8" textLength="58.6" lengthAdjust="spacingAndGlyphs">2010 EPS</text>
<rect x="319.1" y="546.5" width="7.5" height="7.5" fill="#45a0bb" stroke="#dbeaf0" stroke-width="0.8" filter="url(#ss)"/>
<text class="lg" x="330.9" y="554.8" textLength="58.6" lengthAdjust="spacingAndGlyphs">2011 EPS</text>
<rect x="394.9" y="546.5" width="7.5" height="7.5" fill="#4aaac6" stroke="#dbeaf0" stroke-width="0.8" filter="url(#ss)"/>
<text class="lg" x="406.7" y="554.8" textLength="58.6" lengthAdjust="spacingAndGlyphs">2012 EPS</text>
<rect x="470.6" y="546.5" width="7.5" height="7.5" fill="#7bbacf" stroke="#dbeaf0" stroke-width="0.8" filter="url(#ss)"/>
<text class="lg" x="482.4" y="554.8" textLength="58.6" lengthAdjust="spacingAndGlyphs">2013 EPS</text>
<rect x="546.4" y="546.5" width="7.5" height="7.5" fill="#9dc8da" stroke="#dbeaf0" stroke-width="0.8" filter="url(#ss)"/>
<text class="lg" x="558.2" y="554.8" textLength="58.6" lengthAdjust="spacingAndGlyphs">2014 EPS</text>
<rect x="622.2" y="546.5" width="7.5" height="7.5" fill="#b5d4e1" stroke="#dbeaf0" stroke-width="0.8" filter="url(#ss)"/>
<text class="lg" x="634.0" y="554.8" textLength="58.6" lengthAdjust="spacingAndGlyphs">2015 EPS</text>
<rect x="697.9" y="546.5" width="7.5" height="7.5" fill="#c9dfe9" stroke="#dbeaf0" stroke-width="0.8" filter="url(#ss)"/>
<text class="lg" x="709.7" y="554.8" textLength="58.6" lengthAdjust="spacingAndGlyphs">2016 EPS</text>
<text x="732.8" y="588.8" font-size="9.3" font-weight="bold" fill="#2a2a2a" textLength="55.8" lengthAdjust="spacingAndGlyphs">Source: S&amp;P</text>
</svg></body></html>
